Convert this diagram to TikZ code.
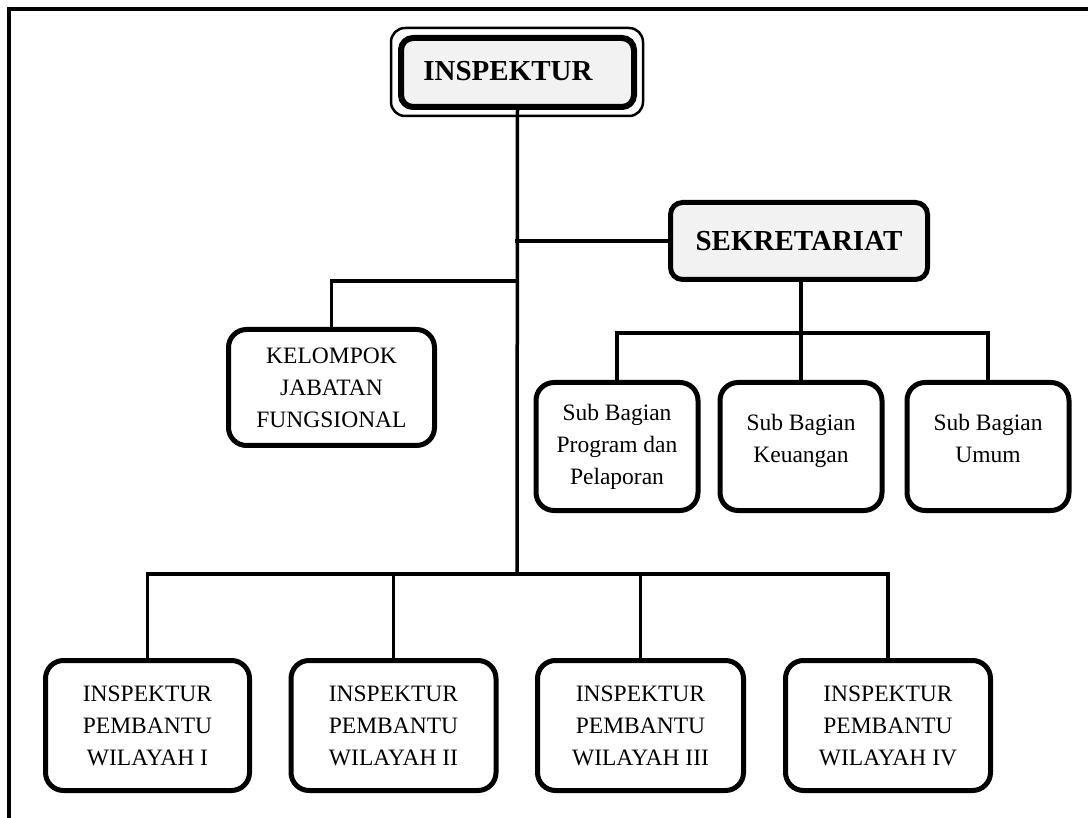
\documentclass[tikz,border=0pt]{standalone}
\usepackage{fontspec}
\setmainfont{Liberation Serif}
\begin{document}
\begin{tikzpicture}[x=1pt,y=-1pt,
  conn/.style={line width=3.5pt, line cap=rect},
  orgbox/.style={draw, line width=5pt, rounded corners=18pt, align=center,
    inner sep=0pt, outer sep=0pt, fill=white,
    font=\fontsize{23.5}{32}\selectfont},
  headbox/.style={draw, line width=5pt, rounded corners=12pt, align=center,
    inner sep=0pt, outer sep=0pt, fill=headgray,
    font=\fontsize{29}{34}\selectfont\bfseries}
]
\definecolor{headgray}{HTML}{F2F2F2}
\useasboundingbox (0,0) rectangle (1088,818);
% outer frame
\draw[line width=4pt] (9,818) -- (9,9) -- (1088,9);

% nodes
\node[headbox, line width=6pt, minimum width=233pt, minimum height=69pt] (insp) at (517.5,72.5) {};
\node[font=\fontsize{29}{34}\selectfont\bfseries] (insptext) at (508,71) {INSPEKTUR};
\draw[line width=2.5pt, rounded corners=14pt] ([shift={(-10,-10)}]insp.north west) rectangle ([shift={(9,9)}]insp.south east);

\node[headbox, minimum width=257pt, minimum height=77pt] (sek) at (799,241) {SEKRETARIAT};

\node[orgbox, minimum width=206pt, minimum height=116pt] (kel) at (331.5,387.5) {KELOMPOK\\JABATAN\\FUNGSIONAL};

\node[orgbox, minimum width=162pt, minimum height=128pt] (s1) at (617,446.5) {Sub Bagian\\Program dan\\Pelaporan};
\node[orgbox, minimum width=162pt, minimum height=128pt] (s2) at (801,446.5) {Sub Bagian\\Keuangan\\[-16pt]\mbox{}};
\node[orgbox, minimum width=162pt, minimum height=128pt] (s3) at (988,446.5) {Sub Bagian\\Umum\\[-16pt]\mbox{}};

\node[orgbox, minimum width=204pt, minimum height=130pt] (w1) at (147.5,725.5) {INSPEKTUR\\PEMBANTU\\WILAYAH I};
\node[orgbox, minimum width=205pt, minimum height=130pt] (w2) at (393.5,725.5) {INSPEKTUR\\PEMBANTU\\WILAYAH II};
\node[orgbox, minimum width=206pt, minimum height=130pt] (w3) at (640.5,725.5) {INSPEKTUR\\PEMBANTU\\WILAYAH III};
\node[orgbox, minimum width=205pt, minimum height=130pt] (w4) at (888,725.5) {INSPEKTUR\\PEMBANTU\\WILAYAH IV};

% bus coordinates
\coordinate (busw) at (517,574);
\coordinate (busk) at (517,281);
\coordinate (buss) at (517,241);
\coordinate (bussub) at (801,333);

% connectors
\draw[conn] (insp.south) -- (busw);
\draw[conn] (buss) -- (sek.west);
\draw[conn] (busk) -| (kel.north);
\draw[conn] (sek.south -| bussub) -- (bussub);
\draw[conn] (s1.north) |- (bussub) -| (s3.north);
\draw[conn] (bussub) -- (s2.north);
\draw[conn] (w1.north) |- (busw) -| (w4.north);
\draw[conn] (w2.north) -- (w2.north |- busw);
\draw[conn] (w3.north) -- (w3.north |- busw);
\end{tikzpicture}
\end{document}
